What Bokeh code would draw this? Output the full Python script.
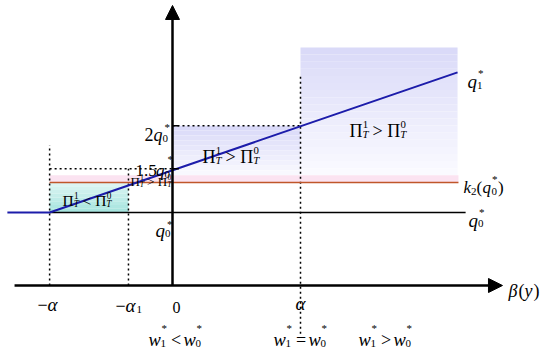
from bokeh.plotting import figure
from bokeh.models import Range1d, Arrow, NormalHead
from bokeh.core.properties import value
from bokeh.embed import file_html
from bokeh.resources import INLINE
import numpy as np

# ---- data (schematic units: alpha = 1 on x, q0* = 1 on y) ----
x_neg_alpha = -0.96
x_neg_alpha1 = -0.344
x_zero = 0.0
x_alpha = 1.0
x_right = 2.227
x_orange_end = 2.234
x_black_end = 2.29
x_blue_start = -1.29
x_axis_start = -1.234
x_axis_end = 2.578
y_axis_end = 3.836

q0_level = 1.0
k2_level = 1.41
pink_top = 1.51
level_15 = 1.60
level_2 = 2.19
q1_end = 2.92
shade_top = 3.26
dot_top_neg_alpha = 1.92
dot_top_alpha = 2.90
dot_bottom_alpha = -0.66

blue_x = [x_blue_start, x_neg_alpha, x_right]
blue_y = [q0_level, q0_level, q1_end]

SERIF = "Liberation Serif"

p = figure(width=550, height=350, x_range=Range1d(-1.34375, 2.953125),
           y_range=Range1d(-0.8904, 3.9041), output_backend="svg",
           toolbar_location=None, min_border=0, x_axis_type=None, y_axis_type=None)
p.outline_line_color = None
p.grid.visible = False
p.background_fill_color = "white"
p.border_fill_color = "white"


def gradient(x0, x1, y0, y1, c_top, c_bot, n=20):
    edges = np.linspace(y1, y0, n + 1)
    cols = []
    for i in range(n):
        t = i / (n - 1)
        c = [int(round(a + (b - a) * t)) for a, b in zip(c_top, c_bot)]
        cols.append("#%02x%02x%02x" % tuple(c))
    p.quad(left=[x0] * n, right=[x1] * n, top=list(edges[:-1]), bottom=list(edges[1:]),
           fill_color=cols, line_color=None)


# shaded regions
gradient(x_alpha, x_right, pink_top, shade_top, (218, 218, 248), (250, 250, 255), 18)
gradient(x_zero, x_alpha, pink_top, level_2, (218, 218, 248), (248, 248, 254), 10)
gradient(x_neg_alpha, x_neg_alpha1, q0_level, k2_level, (220, 245, 243), (168, 229, 223), 8)
p.quad(left=[x_neg_alpha], right=[x_orange_end], bottom=[k2_level], top=[pink_top],
       fill_color="#fbe3f1", line_color=None)

# dotted guide lines
p.segment(x0=[x_neg_alpha, x_neg_alpha1, x_alpha], y0=[0, 0, dot_bottom_alpha],
          x1=[x_neg_alpha, x_neg_alpha1, x_alpha], y1=[dot_top_neg_alpha, level_15, dot_top_alpha],
          line_color="black", line_width=1.5, line_dash="2 3")
p.segment(x0=[x_neg_alpha, x_zero], y0=[level_15, level_2],
          x1=[x_zero, x_alpha], y1=[level_15, level_2],
          line_color="black", line_width=1.5, line_dash="2 3")

# level lines
p.line([x_neg_alpha, x_black_end], [q0_level, q0_level], line_color="black", line_width=1.5)
p.line([x_neg_alpha, x_orange_end], [k2_level, k2_level], line_color="#c0562a", line_width=1.6)
p.line(blue_x, blue_y, line_color="#1c1caa", line_width=2)

# small ticks on the vertical axis
p.segment(x0=[x_zero, x_zero], y0=[level_15, level_2], x1=[0.05, 0.05], y1=[level_15, level_2],
          line_color="black", line_width=1.5)

# axes
p.add_layout(Arrow(end=NormalHead(size=14, fill_color="black", line_color="black"),
                   x_start=x_axis_start, y_start=0, x_end=x_axis_end, y_end=0,
                   line_width=2.5, line_color="black"))
p.add_layout(Arrow(end=NormalHead(size=14, fill_color="black", line_color="black"),
                   x_start=x_zero, y_start=0, x_end=x_zero, y_end=y_axis_end,
                   line_width=2.5, line_color="black"))


def compose(x, y, pieces):
    for t, dx, dy, size, it in pieces:
        p.text(x=[x], y=[y], text=[t], x_offset=dx, y_offset=dy,
               text_font=value(SERIF), text_font_size=f"{size:.1f}px",
               text_font_style="italic" if it else "normal",
               text_baseline="alphabetic", text_align="left", text_color="black")


def pi_label(x, y, dx, dy, s, op):
    sm = 0.6 * s
    compose(x, y, [
        ("\u03a0", dx, dy, s, False),
        ("T", dx + 0.72 * s, dy + 0.2 * s, sm, True),
        ("1", dx + 0.74 * s, dy - 0.33 * s, sm, False),
        (op, dx + 1.28 * s, dy, s, False),
        ("\u03a0", dx + 2.1 * s, dy, s, False),
        ("T", dx + 2.82 * s, dy + 0.2 * s, sm, True),
        ("0", dx + 2.84 * s, dy - 0.33 * s, sm, False),
    ])


def w_label(x, y, dx, dy, op):
    compose(x, y, [
        ("w", dx, dy, 18.5, True), ("1", dx + 12, dy + 4, 11, False),
        ("*", dx + 13, dy - 12, 11, False),
        (op, dx + 22.5, dy, 18, False),
        ("w", dx + 35, dy, 18.5, True), ("0", dx + 47, dy + 4, 11, False),
        ("*", dx + 48, dy - 12, 11, False),
    ])


# right-hand labels
compose(x_right, q1_end, [("q", 10, 9, 19, True), ("1", 19.5, 13, 11, False), ("*", 20.5, 1, 11, False)])
compose(x_orange_end, k2_level, [("k", 5, 5, 17, True), ("2", 12.5, 9, 11, False),
                                 ("(", 18, 5, 17, False), ("q", 24, 5, 17, True),
                                 ("0", 33, 9, 11, False), ("*", 33.5, -4, 11, False),
                                 (")", 39.5, 5, 17, False)])
compose(x_black_end, q0_level, [("q", 3, 8, 19, True), ("0", 12.5, 11, 11, False), ("*", 13.5, -1, 11, False)])

# vertical-axis labels
compose(x_zero, q0_level, [("q", -17, 18, 19, True), ("0", -7.5, 21, 11, False), ("*", -5.5, 11, 11, False)])
compose(x_zero, level_2, [("2", -28, 9, 18, False), ("q", -19, 9, 18, True),
                          ("0", -10, 13, 11, False), ("*", -8, 1, 11, False)])
compose(x_zero, level_15, [("1.5", -37, 2, 17, False), ("q", -16.5, 2, 17, True),
                           ("0", -8, 6, 11, False), ("*", -5, -10, 11, False)])

# region labels
pi_label(x_alpha, level_2, 49, 5, 18, ">")
pi_label(x_zero, level_2, 30, 31, 18, ">")
pi_label(x_neg_alpha1, k2_level, 2, -1, 13, ">")
pi_label(x_neg_alpha, q0_level, 13, -12, 15.5, "<")

# x-axis tick labels
compose(x_neg_alpha, 0, [("\u2212", -12, 19, 18, False), ("\u03b1", -2, 19, 19, True)])
compose(x_neg_alpha1, 0, [("\u2212", -13, 20, 18, False), ("\u03b1", -3, 20, 19, True),
                          ("1", 8, 24, 11, False)])
compose(x_zero, 0, [("0", 0, 22, 16, False)])
compose(x_alpha, 0, [("\u03b1", -5, 18, 19, True)])
compose(x_axis_end, 0, [("\u03b2", 6, 5, 18, True), ("(", 16, 5, 18, False),
                        ("y", 22, 5, 18, True), (")", 31, 5, 18, False)])

# wage comparison labels
w_label(x_zero, 0, -24, 54, "<")
w_label(x_alpha, 0, -27, 54, "=")
w_label(x_alpha, 0, 58, 54, ">")

open("out.html", "w").write(file_html(p, INLINE))
